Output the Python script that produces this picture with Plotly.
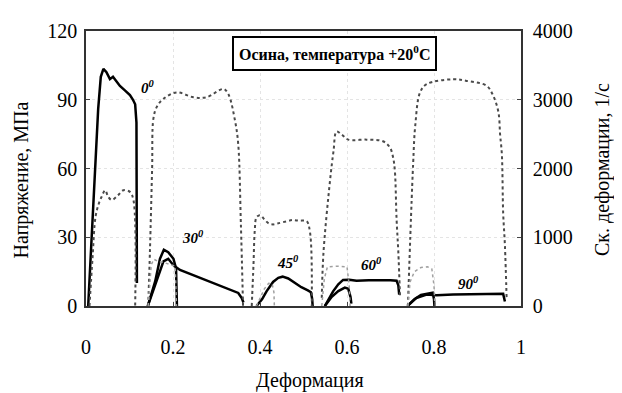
import plotly.graph_objects as go

# ---- stress curves (strain, MPa) ----
s0_x = [0.005, 0.012, 0.020, 0.028, 0.034, 0.040, 0.047, 0.055, 0.062, 0.070, 0.078, 0.090, 0.101, 0.108, 0.113, 0.116, 0.117, 0.117]
s0_y = [0, 25, 53, 86, 100, 103.5, 102, 99, 100, 98, 96, 94, 92, 90, 88, 80, 40, 10]

s30a_x = [0.142, 0.150, 0.159, 0.170, 0.179, 0.189, 0.201, 0.207, 0.209]
s30a_y = [0, 5, 10.7, 20.6, 24.5, 23.5, 20.6, 16.4, 0]
s30b_x = [0.142, 0.150, 0.160, 0.170, 0.178, 0.189, 0.201, 0.216, 0.254, 0.293, 0.323, 0.350, 0.358, 0.362]
s30b_y = [0, 4.5, 10, 16, 19.5, 20.6, 17.8, 15.7, 12.8, 10, 7.8, 5.7, 3.5, 1.5]

s45_x = [0.392, 0.405, 0.415, 0.430, 0.442, 0.452, 0.465, 0.480, 0.495, 0.510, 0.517, 0.520, 0.521]
s45_y = [0, 3, 6.4, 10.5, 12.3, 12.8, 12, 10, 8.2, 6.8, 6, 3, 0]

s60a_x = [0.549, 0.565, 0.580, 0.595, 0.603, 0.608, 0.610]
s60a_y = [0, 4, 6.5, 8, 7.5, 4, 1]
s60b_x = [0.549, 0.558, 0.568, 0.580, 0.591, 0.605, 0.622, 0.650, 0.676, 0.700, 0.714, 0.718, 0.720]
s60b_y = [0, 3, 6.4, 9.5, 11.4, 11.5, 11, 11.2, 11.3, 11.2, 11, 9, 5]

s90a_x = [0.739, 0.755, 0.770, 0.785, 0.797, 0.800, 0.801]
s90a_y = [0, 3, 4.8, 5.5, 5.8, 3, 0]
s90b_x = [0.739, 0.759, 0.783, 0.806, 0.844, 0.906, 0.959, 0.963]
s90b_y = [0, 3.5, 5, 4.7, 5, 5.3, 5.3, 2]

# ---- strain-rate curves (strain, 1/s) ----
r0_x = [0.008, 0.015, 0.022, 0.030, 0.036, 0.044, 0.051, 0.059, 0.074, 0.086, 0.101, 0.109, 0.113]
r0_y = [0, 700, 1300, 1500, 1590, 1684, 1590, 1542, 1613, 1684, 1660, 1542, 0]

r30a_x = [0.143, 0.147, 0.150, 0.156, 0.165, 0.175, 0.185, 0.195, 0.205, 0.208]
r30a_y = [0, 400, 600, 680, 650, 640, 620, 600, 580, 0]
r30b_x = [0.143, 0.147, 0.152, 0.155, 0.163, 0.178, 0.208, 0.247, 0.277, 0.316, 0.327, 0.343, 0.350, 0.356, 0.361]
r30b_y = [0, 800, 2000, 2729, 2900, 3013, 3107, 3036, 3036, 3156, 3085, 2680, 2349, 1200, 0]

r45a_x = [0.392, 0.410, 0.420, 0.428, 0.432, 0.433]
r45a_y = [0, 250, 330, 320, 200, 0]
r45b_x = [0.381, 0.385, 0.388, 0.392, 0.400, 0.410, 0.420, 0.430, 0.440, 0.460, 0.475, 0.490, 0.507, 0.515, 0.519]
r45b_y = [0, 600, 1100, 1290, 1320, 1260, 1200, 1186, 1200, 1230, 1250, 1240, 1234, 1068, 0]

r60a_x = [0.542, 0.548, 0.555, 0.580, 0.600, 0.605, 0.607]
r60a_y = [0, 400, 570, 580, 570, 300, 0]
r60b_x = [0.542, 0.546, 0.561, 0.569, 0.576, 0.588, 0.603, 0.645, 0.683, 0.699, 0.706, 0.710, 0.714, 0.718, 0.722]
r60b_y = [118, 783, 1826, 2254, 2538, 2491, 2420, 2420, 2396, 2302, 2160, 1969, 1257, 783, 118]

r90a_x = [0.740, 0.745, 0.755, 0.770, 0.785, 0.795, 0.800, 0.802]
r90a_y = [0, 350, 500, 560, 570, 540, 300, 0]
r90b_x = [0.740, 0.752, 0.757, 0.768, 0.783, 0.844, 0.875, 0.921, 0.936, 0.948, 0.952, 0.956, 0.959, 0.963, 0.967]
r90b_y = [0, 2064, 2633, 3107, 3227, 3298, 3274, 3203, 3060, 2823, 2491, 2206, 1352, 882, 100]

angle_labels = ["0<sup>0</sup>", "30<sup>0</sup>", "45<sup>0</sup>", "60<sup>0</sup>", "90<sup>0</sup>"]
angle_x = [0.143, 0.246, 0.465, 0.657, 0.880]
angle_y = [95.6, 30.3, 19.2, 18.4, 10.2]

x_ticks = [0, 0.2, 0.4, 0.6, 0.8, 1]
x_ticklabels = ["0", "0.2", "0.4", "0.6", "0.8", "1"]
y_ticks = [0, 30, 60, 90, 120]
y2_ticks = [0, 1000, 2000, 3000, 4000]

fig = go.Figure()

dark_dot = dict(color="#4a4a4a", width=2, dash="dot")
light_dot = dict(color="#a0a0a0", width=1.5, dash="dot")
solid = dict(color="black", width=2.5)

for xs, ys in [(r0_x, r0_y), (r30b_x, r30b_y), (r45b_x, r45b_y), (r60b_x, r60b_y), (r90b_x, r90b_y)]:
    fig.add_trace(go.Scatter(x=xs, y=ys, yaxis="y2", mode="lines", line=dark_dot,
                             line_shape="spline", showlegend=False, hoverinfo="skip"))
for xs, ys in [(r30a_x, r30a_y), (r45a_x, r45a_y), (r60a_x, r60a_y), (r90a_x, r90a_y)]:
    fig.add_trace(go.Scatter(x=xs, y=ys, yaxis="y2", mode="lines", line=light_dot,
                             showlegend=False, hoverinfo="skip"))
for xs, ys in [(s0_x, s0_y), (s30a_x, s30a_y), (s30b_x, s30b_y), (s45_x, s45_y),
               (s60a_x, s60a_y), (s60b_x, s60b_y), (s90a_x, s90a_y), (s90b_x, s90b_y)]:
    fig.add_trace(go.Scatter(x=xs, y=ys, mode="lines", line=solid,
                             showlegend=False, hoverinfo="skip"))

font_family = "Liberation Serif, Times New Roman, serif"
annotations = []
for t, ax, ay in zip(angle_labels, angle_x, angle_y):
    annotations.append(dict(x=ax, y=ay, xref="x", yref="y", text="<b><i>" + t + "</i></b>",
                            showarrow=False, font=dict(size=15, color="black", family=font_family)))

annotations.append(dict(x=0.572, y=0.918, xref="paper", yref="paper",
                        xanchor="center", yanchor="middle",
                        text="<b>Осина, температура +20<sup>0</sup>C</b>", showarrow=False,
                        font=dict(size=16, color="black", family=font_family),
                        bordercolor="black", borderwidth=2, borderpad=5, bgcolor="white"))
annotations.append(dict(x=-0.148, y=0.459, xref="paper", yref="paper", text="Напряжение, МПа",
                        xanchor="center", yanchor="middle",
                        textangle=-90, showarrow=False,
                        font=dict(size=20, color="black", family=font_family)))
annotations.append(dict(x=1.189, y=0.495, xref="paper", yref="paper", text="Ск. деформации, 1/с",
                        xanchor="center", yanchor="middle",
                        textangle=-90, showarrow=False,
                        font=dict(size=20, color="black", family=font_family)))
annotations.append(dict(x=0.515, y=-0.270, xref="paper", yref="paper", text="Деформация",
                        xanchor="center", yanchor="middle",
                        showarrow=False, font=dict(size=20, color="black", family=font_family)))

grid = dict(showgrid=True, gridcolor="#e4e4e4", gridwidth=1, griddash="dot")

# page body adds an 8px offset, so the figure is 8px smaller and margins shifted
fig.update_layout(
    width=614, height=385,
    margin=dict(l=78, r=101, t=17, b=87),
    paper_bgcolor="white", plot_bgcolor="white",
    font=dict(family=font_family, size=20, color="black"),
    xaxis=dict(range=[0, 1], tickvals=x_ticks, ticktext=x_ticklabels, ticks="inside", ticklen=4,
               showline=True, linecolor="#333", linewidth=1.5, mirror=True, zeroline=False,
               ticklabelstandoff=22, tickfont=dict(size=20), **grid),
    yaxis=dict(range=[0, 120], tickvals=y_ticks, ticks="inside", ticklen=4,
               showline=True, linecolor="#333", linewidth=1.5, zeroline=False,
               ticklabelstandoff=3, tickfont=dict(size=20), **grid),
    yaxis2=dict(range=[0, 4000], tickvals=y2_ticks, overlaying="y", side="right", ticks="inside",
                ticklen=4, showline=True, linecolor="#333", linewidth=1.5, zeroline=False,
                showgrid=False, ticklabelstandoff=6, tickfont=dict(size=20)),
    annotations=annotations,
)

fig.write_html("out.html")
